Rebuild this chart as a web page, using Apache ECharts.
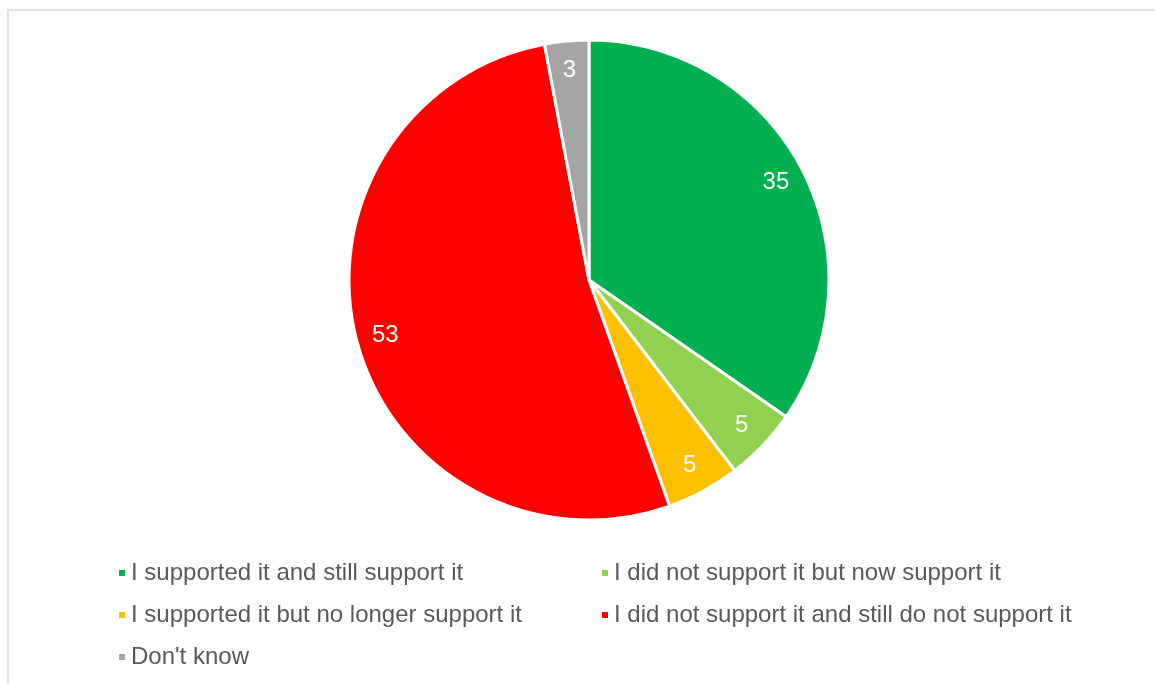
<!DOCTYPE html>
<html>
<head>
<meta charset="utf-8">
<script src="https://cdn.jsdelivr.net/npm/echarts@6/dist/echarts.min.js"></script>
<style>
  html, body { margin: 0; padding: 0; background: #fff; }
  #chart { width: 1155px; height: 684px; }
</style>
</head>
<body>
<div id="chart"></div>
<script>
const categories = [
  'I supported it and still support it',
  'I did not support it but now support it',
  'I supported it but no longer support it',
  'I did not support it and still do not support it',
  "Don't know"
];
const values = [35, 5, 5, 53, 3];
const colors = ['#00B050', '#92D050', '#FFC000', '#FF0000', '#A5A5A5'];

const leftColumn = [categories[0], categories[2], categories[4]];
const rightColumn = [categories[1], categories[3]];

const pieData = categories.map((name, i) => ({
  name,
  value: values[i],
  itemStyle: { color: colors[i] }
}));

const chart = echarts.init(document.getElementById('chart'));

const legendBase = {
  orient: 'vertical',
  top: 556,
  itemWidth: 8,
  itemHeight: 8,
  itemGap: 18,
  icon: 'rect',
  selectedMode: false,
  textStyle: { fontFamily: 'Liberation Sans, Arial', fontSize: 24, color: '#595959', lineHeight: 24 }
};

chart.setOption({
  animation: false,
  backgroundColor: '#fff',
  graphic: [{
    type: 'rect',
    shape: { x: 8, y: 10, width: 1300, height: 800 },
    style: { fill: 'none', stroke: '#d9d9d9', lineWidth: 1.5 },
    silent: true
  }],
  legend: [
    Object.assign({}, legendBase, { left: 112, data: leftColumn }),
    Object.assign({}, legendBase, { left: 595, data: rightColumn })
  ],
  series: [
    {
      type: 'pie',
      center: [589, 280],
      radius: [0, 240],
      startAngle: 90,
      clockwise: true,
      data: pieData,
      itemStyle: { borderColor: '#fff', borderWidth: 3 },
      label: { show: false },
      labelLine: { show: false },
      emphasis: { disabled: true }
    },
    {
      type: 'pie',
      center: [589, 280],
      radius: [176, 240],
      startAngle: 90,
      clockwise: true,
      silent: true,
      legendHoverLink: false,
      data: pieData.map(d => ({ name: d.name, value: d.value, itemStyle: { color: 'rgba(0,0,0,0)' } })),
      label: {
        show: true,
        position: 'inside',
        formatter: '{c}',
        color: '#fff',
        fontFamily: 'Liberation Sans, Arial',
        fontSize: 24
      },
      labelLine: { show: false },
      emphasis: { disabled: true }
    }
  ]
});
</script>
</body>
</html>
